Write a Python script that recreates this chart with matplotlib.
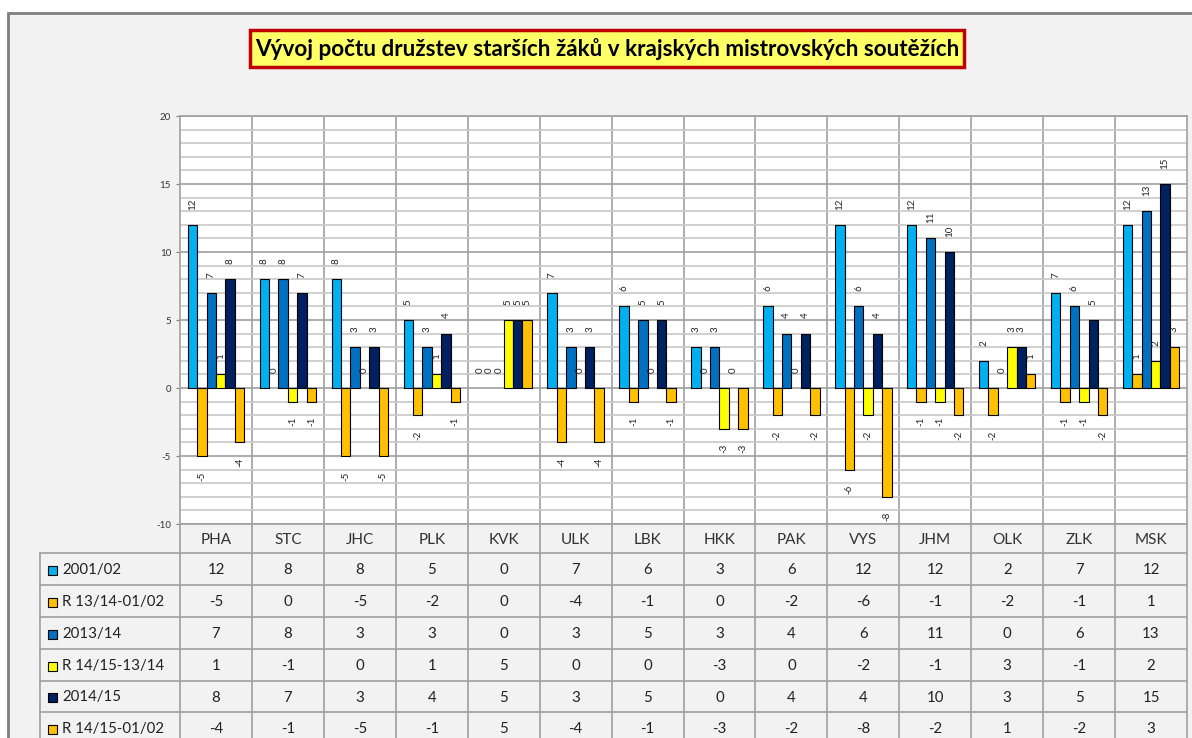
import matplotlib
matplotlib.use("Agg")
import matplotlib.pyplot as plt
from matplotlib.patches import Rectangle
import numpy as np

plt.rcParams["font.family"] = ["Lato", "DejaVu Sans"]
plt.rcParams["axes.unicode_minus"] = False

categories = ["PHA", "STC", "JHC", "PLK", "KVK", "ULK", "LBK", "HKK", "PAK", "VYS", "JHM", "OLK", "ZLK", "MSK"]
series_names = ["2001/02", "R 13/14-01/02", "2013/14", "R 14/15-13/14", "2014/15", "R 14/15-01/02"]
s2001 = [12, 8, 8, 5, 0, 7, 6, 3, 6, 12, 12, 2, 7, 12]
r1314_0102 = [-5, 0, -5, -2, 0, -4, -1, 0, -2, -6, -1, -2, -1, 1]
s2013 = [7, 8, 3, 3, 0, 3, 5, 3, 4, 6, 11, 0, 6, 13]
r1415_1314 = [1, -1, 0, 1, 5, 0, 0, -3, 0, -2, -1, 3, -1, 2]
s2014 = [8, 7, 3, 4, 5, 3, 5, 0, 4, 4, 10, 3, 5, 15]
r1415_0102 = [-4, -1, -5, -1, 5, -4, -1, -3, -2, -8, -2, 1, -2, 3]
series = [s2001, r1314_0102, s2013, r1415_1314, s2014, r1415_0102]
colors = ["#00B0F0", "#FFC000", "#0070C0", "#FFFF00", "#002060", "#FFC000"]
title = "Vývoj počtu družstev starších žáků v krajských mistrovských soutěžích"

W, H = 1192, 738
fig = plt.figure(figsize=(W / 100, H / 100), dpi=100, facecolor="white")

# background frame and title box, in pixel coordinates
bg = fig.add_axes([0, 0, 1, 1], zorder=-5)
bg.set_xlim(0, W)
bg.set_ylim(H, 0)
bg.axis("off")
bg.add_patch(Rectangle((8, 13), W, H, facecolor="#F2F2F2", edgecolor="#808080", lw=2))
bg.add_patch(Rectangle((250, 30), 714, 37, facecolor="#FFFF66", edgecolor="#C00000", lw=2.5))
bg.text(607, 49, title, ha="center", va="center", fontsize=16.2, fontweight="bold", color="black")

# main chart
pl, pr, pt, pb = 180, 1187, 116, 524
ax = fig.add_axes([pl / W, (H - pb) / H, (pr - pl) / W, (pb - pt) / H])
ax.set_facecolor("white")
n = len(categories)
x = np.arange(n)
bw = 1 / (6 + 1.65)
for j, (vals, c) in enumerate(zip(series, colors)):
    pos = x + (j - 2.5) * bw
    lws = [0.8 if v != 0 else 0 for v in vals]
    ax.bar(pos, vals, width=bw, color=c, edgecolor="black", linewidth=lws, zorder=3)
    for xp, v in zip(pos, vals):
        off = -11 if v < 0 else 11
        ax.annotate(str(v), (xp, v), xytext=(0, off), textcoords="offset points",
                    ha="center", va="top" if v < 0 else "bottom", rotation=90,
                    fontsize=7, color="#222222", zorder=4)

ax.set_xlim(-0.5, n - 0.5)
ax.set_ylim(-10, 20)
ax.set_yticks(range(-10, 21, 5))
ax.set_yticks(range(-10, 21, 1), minor=True)
ax.set_xticks([])
ax.grid(axis="y", which="minor", color="#C8C8C8", lw=1.2, zorder=0)
ax.grid(axis="y", which="major", color="#A0A0A0", lw=1.2, zorder=0)
for b in np.arange(0.5, n - 0.5, 1):
    ax.axvline(b, color="#A0A0A0", lw=1.2, zorder=1)
for s in ax.spines.values():
    s.set_color("#A0A0A0")
    s.set_linewidth(1.2)
ax.tick_params(axis="y", which="major", labelsize=7, length=3, color="#808080", labelcolor="#333333")
ax.tick_params(axis="y", which="minor", length=0)

# data table under the chart
tax = fig.add_axes([pl / W, 0, (pr - pl) / W, (H - pb) / H])
tax.set_xlim(-0.5, n - 0.5)
tax.set_ylim(H, pb)
tax.axis("off")
colw = (pr - pl) / n
xleft = -0.5 - (pl - 40) / colw
rows = [524, 553, 585, 617, 649, 681, 712, 744]
lc = "#A0A0A0"
for y in rows[1:]:
    tax.plot([xleft, n - 0.5], [y, y], color=lc, lw=1.2, clip_on=False)
tax.plot([xleft, xleft], [rows[1], rows[-1]], color=lc, lw=1.2, clip_on=False)
for b in np.arange(-0.5, n, 1):
    tax.plot([b, b], [rows[0], rows[-1]], color=lc, lw=1.2, clip_on=False)

for i, cat in enumerate(categories):
    tax.text(i, (rows[0] + rows[1]) / 2 + 1, cat, ha="center", va="center", fontsize=11, color="#333333")

sq = 9 / colw
for r, (name, vals, c) in enumerate(zip(series_names, series, colors)):
    yc = (rows[r + 1] + rows[r + 2]) / 2 + 1
    tax.add_patch(Rectangle((xleft + 8 / colw, yc - 4.5), sq, 9, facecolor=c,
                            edgecolor="black", lw=0.8, clip_on=False))
    tax.text(xleft + 22 / colw, yc, name, ha="left", va="center", fontsize=10.8,
             color="#222222", clip_on=False)
    for i, v in enumerate(vals):
        tax.text(i, yc, str(v), ha="center", va="center", fontsize=10.8, color="#222222")

fig.savefig("out.png", dpi=100, facecolor="white")
